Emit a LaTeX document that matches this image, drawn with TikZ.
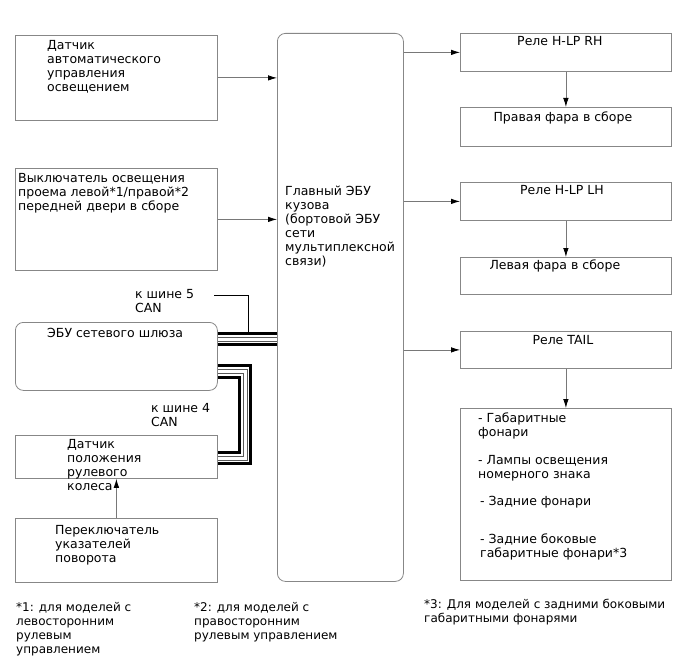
\documentclass[tikz,border=0pt]{standalone}
\usepackage{fontspec}
\setmainfont{DejaVu Sans}
\usepackage{xcolor}
\usetikzlibrary{arrows.meta}
\usetikzlibrary{positioning}
\definecolor{framegray}{RGB}{135,135,135}
\definecolor{wiregray}{RGB}{120,120,120}

\begin{document}
\begin{tikzpicture}[x=1pt,y=-1pt,
    box/.style={draw=framegray,line width=0.8pt,inner sep=0pt,anchor=north west},
    rbox/.style={box,rounded corners=8pt},
    lbl/.style={font=\fontsize{12.5}{14}\selectfont,align=left,inner sep=0pt,anchor=north west},
    clbl/.style={lbl,anchor=north},
    note/.style={lbl,font=\fontsize{12}{14}\selectfont},
    wire/.style={draw=wiregray,line width=0.8pt,-{Latex[length=9pt,width=5.5pt,color=black]}},
    busfat/.style={draw=black,line width=3pt},
    busthin/.style={draw=black!65,line width=0.8pt}]
        \useasboundingbox (0,0) rectangle (688,658);
        \node[box,minimum width=202pt,minimum height=85pt] (sensor) at (15,35) {};
        \node[box,minimum width=202pt,minimum height=102pt] (door) at (15,168) {};
        \node[rbox,minimum width=202pt,minimum height=68pt] (gateway) at (15,322) {};
        \node[box,minimum width=202pt,minimum height=43pt] (steer) at (15,435) {};
        \node[box,minimum width=202pt,minimum height=64pt] (turnsw) at (15,518) {};
        \node[rbox,minimum width=126pt,minimum height=548pt] (bodyecu) at (277,33) {};
        \node[box,minimum width=211pt,minimum height=38pt] (relayrh) at (460,33) {};
        \node[box,minimum width=211pt,minimum height=39pt] (lamprh) at (460,107) {};
        \node[box,minimum width=211pt,minimum height=38pt] (relaylh) at (460,182) {};
        \node[box,minimum width=211pt,minimum height=37pt] (lamplh) at (460,257) {};
        \node[box,minimum width=211pt,minimum height=37pt] (relaytail) at (460,331) {};
        \node[box,minimum width=211pt,minimum height=172pt] (taillamps) at (460,408) {};

        \node[lbl] (sensortxt) at ([shift={(32,5)}]sensor.north west)
          {Датчик\\автоматического\\управления\\освещением};
        \node[lbl] (doortxt) at ([shift={(3,5)}]door.north west)
          {Выключатель освещения\\проема левой*1/правой*2\\передней двери в сборе};
        \node[lbl] (gatewaytxt) at ([shift={(32,6)}]gateway.north west) {ЭБУ сетевого шлюза};
        \node[lbl] (steertxt) at ([shift={(52,4)}]steer.north west)
          {Датчик\\положения\\рулевого\\колеса};
        \node[lbl] (turnswtxt) at ([shift={(40,7)}]turnsw.north west)
          {Переключатель\\указателей\\поворота};
        \node[lbl] (bodyecutxt) at ([shift={(8,153)}]bodyecu.north west)
          {Главный ЭБУ\\кузова\\(бортовой ЭБУ\\сети\\мультиплексной\\связи)};
        \node[clbl] (relayrhtxt) at ([shift={(-6,3)}]relayrh.north) {Реле H-LP RH};
        \node[clbl] (lamprhtxt) at ([shift={(-3,5)}]lamprh.north) {Правая фара в сборе};
        \node[clbl] (relaylhtxt) at ([shift={(-4,3)}]relaylh.north) {Реле H-LP LH};
        \node[clbl] (lamplhtxt) at ([shift={(-11,3)}]lamplh.north) {Левая фара в сборе};
        \node[clbl] (relaytailtxt) at ([shift={(-3,4)}]relaytail.north) {Реле TAIL};
        \node[lbl] (clearance) at ([shift={(18,5)}]taillamps.north west) {- Габаритные\\фонари};
        \node[lbl] (platelamp) at ([shift={(18,47)}]taillamps.north west) {- Лампы освещения\\номерного знака};
        \node[lbl] (rearlamp) at ([shift={(20,88)}]taillamps.north west) {- Задние фонари};
        \node[lbl] (sidelamp) at ([shift={(20,126)}]taillamps.north west) {- Задние боковые\\габаритные фонари*3};

        \draw[wire] (sensor.east) -- (sensor.east -| bodyecu.west);
        \draw[wire] (door.east) -- (door.east -| bodyecu.west);
        \draw[wire] (relayrh.west -| bodyecu.east) -- (relayrh.west);
        \draw[wire] (relaylh.west -| bodyecu.east) -- (relaylh.west);
        \draw[wire] (relaytail.west -| bodyecu.east) -- (relaytail.west);
        \draw[wire] (relayrh.south) -- (lamprh.north);
        \draw[wire] (relaylh.south) -- (lamplh.north);
        \draw[wire] (relaytail.south) -- (taillamps.north);
        \draw[wire] (turnsw.north) -- (steer.south);

        \coordinate (can5a) at ([yshift=23pt]gateway.east);
        \coordinate (can5b) at ([yshift=19pt]gateway.east);
        \coordinate (can5c) at ([yshift=15.5pt]gateway.east);
        \coordinate (can5d) at ([yshift=11.5pt]gateway.east);
        \draw[busfat] (can5a) -- (can5a -| bodyecu.west);
        \draw[busthin] (can5b) -- (can5b -| bodyecu.west);
        \draw[busthin] (can5c) -- (can5c -| bodyecu.west);
        \draw[busfat] (can5d) -- (can5d -| bodyecu.west);

        \draw[busfat] ([yshift=-9pt]gateway.east) -- ++(33,0) |- ([yshift=-6.5pt]steer.east);
        \draw[busthin] ([yshift=-13pt]gateway.east) -- ++(29.5,0) |- ([yshift=-3pt]steer.east);
        \draw[busthin] ([yshift=-17pt]gateway.east) -- ++(26,0) |- ([yshift=0.5pt]steer.east);
        \draw[busfat] ([yshift=-21pt]gateway.east) -- ++(22,0) |- ([yshift=4pt]steer.east);

        \node[lbl] (can5txt) at (135,289) {к шине 5\\CAN};
        \node[lbl] (can4txt) at (151,403) {к шине 4\\CAN};
        \coordinate (can5end) at (214,295);
        \draw[black,line width=0.8pt] (can5end) -| ([xshift=30.5pt]can5a);

        \node[note] (note1) at (16,602) {*1: для моделей с\\левосторонним\\рулевым\\управлением};
        \node[note] (note2) at (194,602) {*2: для моделей с\\правосторонним\\рулевым управлением};
        \node[note] (note3) at (424,599) {*3: Для моделей с задними боковыми\\габаритными фонарями};
      \end{tikzpicture}
\end{document}
